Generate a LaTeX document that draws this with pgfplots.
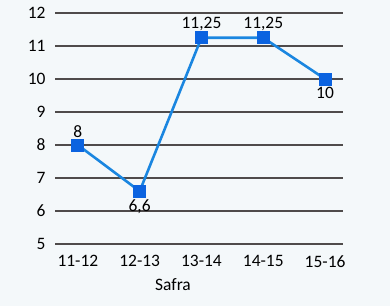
\documentclass[border=0pt]{standalone}
\usepackage{pgfplots}
\pgfplotsset{compat=1.18}
\usepackage{fontspec}
\setmainfont{Carlito}
\definecolor{bg}{HTML}{F4F8FA}
\definecolor{gridc}{HTML}{4F4B4B}
\definecolor{ln}{HTML}{1A86E0}
\definecolor{mk}{HTML}{0B63E0}
\newcommand{\lblfont}{\fontsize{17.5}{20}\selectfont}
\begin{document}
\begin{tikzpicture}[x=1bp,y=1bp]
\fill[bg] (0,0) rectangle (390,306);
\path[use as bounding box] (0,0) rectangle (390,306);
\begin{axis}[
  at={(55bp,62bp)}, anchor=south west,
  scale only axis, width=288bp, height=231bp,
  xmin=-0.37, xmax=4.29, ymin=5, ymax=12,
  axis line style={draw=none},
  tick style={draw=none},
  ymajorgrids, xmajorgrids=false,
  major grid style={draw=gridc, line width=1.1pt},
  ytick={5,...,12},
  xtick=data,
  xticklabels={11-12,12-13,13-14,14-15,15-16},
  tick label style={font=\lblfont, text=black},
  /pgf/number format/assume math mode=true,
  yticklabel style={xshift=-6bp},
  xticklabel style={yshift=-8bp},
  xlabel={Safra},
  xlabel style={font=\lblfont, xshift=-26bp, yshift=-4bp},
  clip=false,
]
\addplot[ln, line width=2.6pt, mark=square*, mark size=6bp, mark options={mk, line width=0pt}]
  coordinates {(0,8) (1,6.6) (2,11.25) (3,11.25) (4,10)};
\addplot[draw=none, mark=none, nodes near coords={\pgfmathprintnumber[use comma, precision=2]{\pgfplotspointmeta}}, nodes near coords align={above}, every node near coord/.append style={font=\lblfont, text=black, yshift=4bp}]
  coordinates {(0,8) (2,11.25) (3,11.25)};
\addplot[draw=none, mark=none, nodes near coords={\pgfmathprintnumber[use comma, precision=2]{\pgfplotspointmeta}}, nodes near coords align={below}, every node near coord/.append style={font=\lblfont, text=black, yshift=-5bp}]
  coordinates {(1,6.6) (4,10)};
\end{axis}
\end{tikzpicture}
\end{document}
